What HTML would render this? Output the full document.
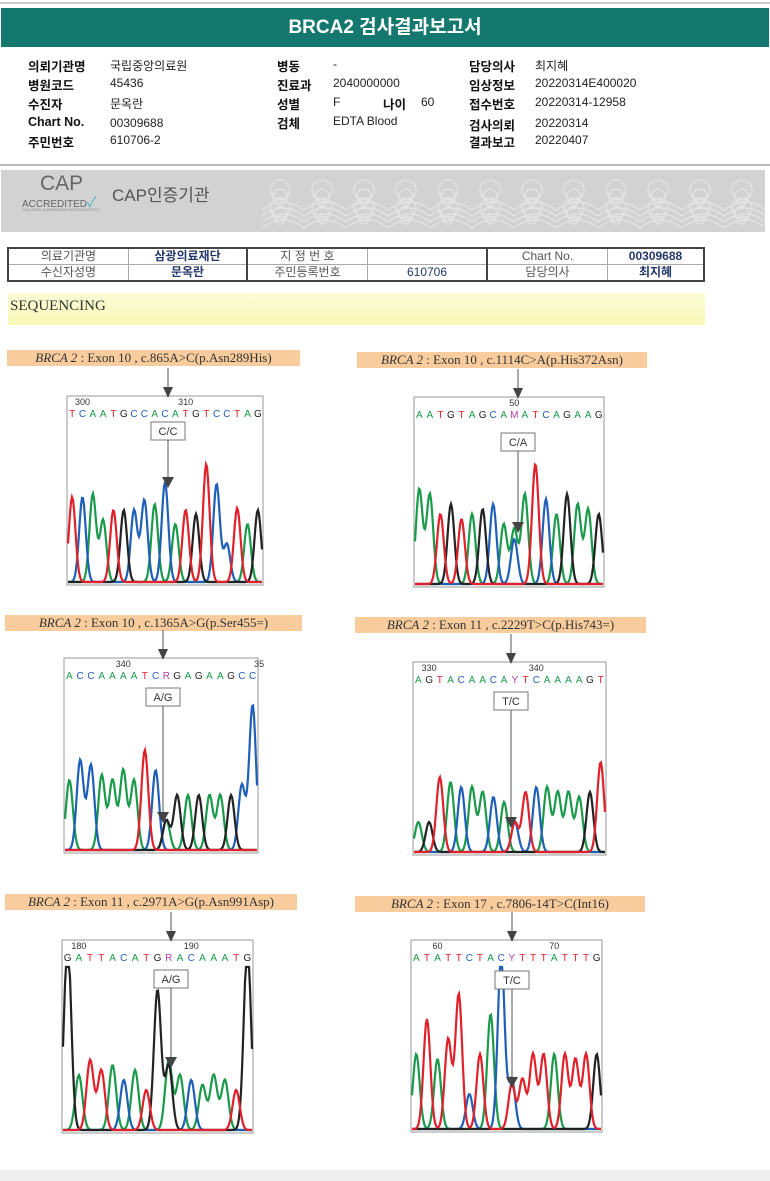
<!DOCTYPE html>
<html><head><meta charset="utf-8">
<style>
body{margin:0;width:770px;height:1181px;background:#fff;position:relative;overflow:hidden;font-family:"Liberation Sans","Noto Sans CJK KR",sans-serif;}
.a{position:absolute;white-space:nowrap}
.lb{font-weight:bold;font-size:12.5px;color:#111}
.v{font-size:12px;color:#222}
.tag{position:absolute;background:#f8cc9c;height:16px;font-family:"Liberation Serif",serif;font-size:13px;color:#333;line-height:16px;text-align:center}
table{border-collapse:collapse}
</style></head><body>
<div class="a" style="left:0;top:2px;width:770px;height:2px;background:#ccc"></div>
<div class="a" style="left:1px;top:8px;width:768px;height:39px;background:#14786f;color:#fff;font-weight:bold;font-size:19px;text-align:center;line-height:40px">BRCA2 검사결과보고서</div>

<div class="a lb" style="left:28px;top:56px">의뢰기관명</div><div class="a v" style="left:110px;top:57px">국립중앙의료원</div>
<div class="a lb" style="left:28px;top:75px">병원코드</div><div class="a v" style="left:110px;top:76px">45436</div>
<div class="a lb" style="left:28px;top:94px">수진자</div><div class="a v" style="left:110px;top:95px">문옥란</div>
<div class="a lb" style="left:28px;top:115px">Chart No.</div><div class="a v" style="left:110px;top:116px">00309688</div>
<div class="a lb" style="left:28px;top:132px">주민번호</div><div class="a v" style="left:110px;top:133px">610706-2</div>

<div class="a lb" style="left:277px;top:56px">병동</div><div class="a v" style="left:333px;top:57px">-</div>
<div class="a lb" style="left:277px;top:75px">진료과</div><div class="a v" style="left:333px;top:76px">2040000000</div>
<div class="a lb" style="left:277px;top:94px">성별</div><div class="a v" style="left:333px;top:95px">F</div>
<div class="a lb" style="left:383px;top:94px">나이</div><div class="a v" style="left:421px;top:95px">60</div>
<div class="a lb" style="left:277px;top:113px">검체</div><div class="a v" style="left:333px;top:114px">EDTA Blood</div>

<div class="a lb" style="left:469px;top:56px">담당의사</div><div class="a v" style="left:535px;top:57px">최지혜</div>
<div class="a lb" style="left:469px;top:75px">임상정보</div><div class="a v" style="left:535px;top:76px">20220314E400020</div>
<div class="a lb" style="left:469px;top:94px">접수번호</div><div class="a v" style="left:535px;top:95px">20220314-12958</div>
<div class="a lb" style="left:469px;top:115px">검사의뢰</div><div class="a v" style="left:535px;top:116px">20220314</div>
<div class="a lb" style="left:469px;top:132px">결과보고</div><div class="a v" style="left:535px;top:133px">20220407</div>

<div class="a" style="left:0;top:164px;width:770px;height:2px;background:#bbb"></div>
<div class="a" style="left:1px;top:170px;width:764px;height:62px;background:#d2d2d2"></div>
<svg class="a" style="left:262px;top:170px" width="503" height="62" id="w"></svg>
<div class="a" style="left:40px;top:172px;font-size:21px;color:#666">CAP</div>
<div class="a" style="left:22px;top:192px;font-size:10px;color:#666">ACCREDITED<span style="color:#4ab0c8;font-size:14px">✓</span></div>
<div class="a" style="left:22px;top:207px;font-size:4px;color:#888">COLLEGE of AMERICAN PATHOLOGISTS</div>
<div class="a" style="left:112px;top:181px;font-size:17px;color:#555">CAP인증기관</div>

<table class="a" style="left:7px;top:247px;width:698px;font-size:12px;color:#555;border:2px solid #444">
<tr style="height:15px"><td style="width:117px;text-align:center;border-right:1px solid #aaa;border-bottom:1px solid #aaa;line-height:13px">의료기관명</td><td style="width:115px;text-align:center;color:#23386a;font-weight:bold;border-right:2px solid #444;border-bottom:1px solid #aaa;line-height:13px">삼광의료재단</td><td style="width:117px;text-align:center;border-right:1px solid #aaa;border-bottom:1px solid #aaa;line-height:13px">지 정 번 호</td><td style="width:116px;border-right:2px solid #444;border-bottom:1px solid #aaa"></td><td style="width:117px;text-align:center;border-right:1px solid #aaa;border-bottom:1px solid #aaa;line-height:13px">Chart No.</td><td style="text-align:center;color:#23386a;font-weight:bold;border-bottom:1px solid #aaa;line-height:13px">00309688</td></tr>
<tr style="height:15px"><td style="text-align:center;border-right:1px solid #aaa;line-height:13px">수신자성명</td><td style="text-align:center;color:#23386a;font-weight:bold;border-right:2px solid #444;line-height:13px">문옥란</td><td style="text-align:center;border-right:1px solid #aaa;line-height:13px">주민등록번호</td><td style="text-align:center;color:#23386a;border-right:2px solid #444;line-height:13px">610706</td><td style="text-align:center;border-right:1px solid #aaa;line-height:13px">담당의사</td><td style="text-align:center;color:#23386a;font-weight:bold;line-height:13px">최지혜</td></tr>
</table>

<div class="a" style="left:8px;top:293px;width:697px;height:32px;background:linear-gradient(#fcfcd8,#f8f8b8)"></div>
<div class="a" style="left:10px;top:298px;font-family:'Liberation Serif',serif;font-size:15px;color:#333">SEQUENCING</div>

<div class="tag" style="left:7px;top:350px;width:293px"><i>BRCA 2</i> : Exon 10 , c.865A&gt;C(p.Asn289His)</div>
<div class="tag" style="left:357px;top:352px;width:290px"><i>BRCA 2</i> : Exon 10 , c.1114C&gt;A(p.His372Asn)</div>
<div class="tag" style="left:5px;top:615px;width:297px"><i>BRCA 2</i> : Exon 10 , c.1365A&gt;G(p.Ser455=)</div>
<div class="tag" style="left:355px;top:617px;width:291px"><i>BRCA 2</i> : Exon 11 , c.2229T&gt;C(p.His743=)</div>
<div class="tag" style="left:5px;top:894px;width:292px"><i>BRCA 2</i> : Exon 11 , c.2971A&gt;G(p.Asn991Asp)</div>
<div class="tag" style="left:355px;top:896px;width:290px"><i>BRCA 2</i> : Exon 17 , c.7806-14T&gt;C(Int16)</div>

<svg id="s" class="a" style="left:0;top:0" width="770" height="1181"></svg>
<div class="a" style="left:0;top:1170px;width:770px;height:11px;background:#eee"></div>

<script>
var w='';
for(var r=0;r<6;r++){for(var k=0;k<12;k++){var cx=18+k*42,cy=20+(r%2)*6+(r>>1)*12;
 w+='<circle cx="'+cx+'" cy="'+cy+'" r="'+(10-(r%3)*3)+'" fill="none" stroke="#e4e4e4" stroke-width="1.3"/>';}}
for(var j=0;j<4;j++){var d='M0 '+(40+j*6);for(var k=0;k<12;k++)d+=' q21 -16 42 0';w+='<path d="'+d+'" fill="none" stroke="#e4e4e4" stroke-width="1.3"/>';}
document.getElementById('w').innerHTML=w;

var col={A:'#1a9a4a',C:'#1f5fb8',G:'#222',T:'#e0202a',M:'#b040b0',R:'#b040b0',Y:'#b040b0'};
var P=[
{x:67,y:396,w:196,h:189,seq:'TCAATGCCACATGTCCTAG',n:['300',1,'310',11],ax:168,lab:'C/C',ly:422,ah:485,
 hs:[[['T',85]],[['C',85]],[['A',88]],[['A',62]],[['T',72]],[['G',72]],[['C',72]],[['C',82]],[['A',78]],[['C',100]],[['A',58]],[['T',72]],[['G',68]],[['T',118]],[['C',98]],[['C',38]],[['T',74]],[['A',58]],[['G',72]]]},
{x:414,y:397,w:190,h:190,seq:'AATGTAGCAMATCAGAAG',n:['50',9],ax:518,lab:'C/A',ly:433,ah:530,
 hs:[[['A',95]],[['A',90]],[['T',70]],[['G',80]],[['T',65]],[['A',70]],[['G',75]],[['C',80]],[['A',60]],[['C',45],['A',55]],[['A',90]],[['T',120]],[['C',85]],[['A',70]],[['G',90]],[['A',80]],[['A',75]],[['G',70]]]},
{x:64,y:658,w:194,h:195,seq:'ACCAAAATCRGAGAAGCC',n:['340',5,'35',17.6],ax:163,lab:'A/G',ly:688,ah:820,
 hs:[[['A',70]],[['C',90]],[['C',85]],[['A',75]],[['A',70]],[['A',80]],[['A',70]],[['T',100]],[['C',80]],[['A',30],['G',30]],[['G',55]],[['A',55]],[['G',55]],[['A',55]],[['A',55]],[['G',55]],[['C',65]],[['C',145]]]},
{x:413,y:662,w:193,h:193,seq:'AGTACAACAYTCAAAAGT',n:['330',1,'340',11],ax:511,lab:'T/C',ly:692,ah:825,
 hs:[[['A',30]],[['G',30]],[['T',75]],[['A',70]],[['C',65]],[['A',65]],[['A',60]],[['C',55]],[['A',50]],[['T',30],['C',30]],[['T',60]],[['C',65]],[['A',65]],[['A',60]],[['A',60]],[['A',55]],[['G',60]],[['T',90]]]},
{x:62,y:940,w:191,h:193,seq:'GATTACATGRACAAATG',n:['180',1,'190',11],ax:171,lab:'A/G',ly:970,ah:1065,
 hs:[[['G',190]],[['A',55]],[['T',70]],[['T',60]],[['A',65]],[['C',50]],[['A',60]],[['T',40]],[['G',140]],[['A',70],['G',65]],[['A',55]],[['C',50]],[['A',45]],[['A',55]],[['A',50]],[['T',40]],[['G',185]]]},
{x:411,y:940,w:191,h:192,seq:'ATATTCTACYTTTATTTG',n:['60',2,'70',13],ax:512,lab:'T/C',ly:971,ah:1085,
 hs:[[['A',75]],[['T',110]],[['A',70]],[['T',90]],[['T',135]],[['C',35]],[['T',75]],[['A',115]],[['C',175]],[['T',45],['C',50]],[['T',50]],[['T',75]],[['T',75]],[['A',75]],[['T',75]],[['T',70]],[['T',75]],[['G',75]]]}
];
var s='';
P.forEach(function(p){
 var n=p.seq.length,sp=p.w/n,base=p.y+p.h-3;
 s+='<rect x="'+p.x+'" y="'+p.y+'" width="'+p.w+'" height="'+p.h+'" fill="#fff" stroke="#999" stroke-width="1"/>';
 for(var i=0;i<n;i++){var c=p.seq[i];
  s+='<text x="'+(p.x+(i+0.5)*sp)+'" y="'+(p.y+21)+'" font-size="10" font-family="Liberation Sans,sans-serif" text-anchor="middle" fill="'+col[c]+'">'+c+'</text>';}
 for(var k=0;k<p.n.length;k+=2)s+='<text x="'+(p.x+(p.n[k+1]+0.5)*sp)+'" y="'+(p.y+9)+'" font-size="9" text-anchor="middle" fill="#333" font-family="Liberation Sans,sans-serif">'+p.n[k]+'</text>';
 ['A','C','G','T'].forEach(function(ch){
  var pts=[];var sig=sp*0.32;
  for(var xx=p.x+1;xx<=p.x+p.w-1;xx+=1){var yv=0;
   p.hs.forEach(function(pk,i){pk.forEach(function(q){if(q[0]==ch){var d=xx-(p.x+(i+0.5)*sp);yv+=q[1]*Math.exp(-d*d/(2*sig*sig));}});});
   pts.push(xx.toFixed(1)+','+(base-Math.min(yv,p.h-30)).toFixed(1));}
  s+='<polyline points="'+pts.join(' ')+'" fill="none" stroke="'+col[ch]+'" stroke-width="2.2"/>';
 });
 var ax=p.ax;
 s+='<line x1="'+ax+'" y1="'+(p.y-28)+'" x2="'+ax+'" y2="'+(p.y-4)+'" stroke="#555"/><path d="M'+(ax-5)+' '+(p.y-9)+'L'+(ax+5)+' '+(p.y-9)+'L'+ax+' '+(p.y+2)+'Z" fill="#444"/>';
 s+='<rect x="'+(ax-17)+'" y="'+p.ly+'" width="34" height="18" fill="#fff" stroke="#777"/><text x="'+ax+'" y="'+(p.ly+13)+'" font-size="11" text-anchor="middle" fill="#333" font-family="Liberation Sans,sans-serif">'+p.lab+'</text>';
 s+='<line x1="'+ax+'" y1="'+(p.ly+18)+'" x2="'+ax+'" y2="'+(p.ah-6)+'" stroke="#555"/><path d="M'+(ax-6)+' '+(p.ah-8)+'L'+(ax+6)+' '+(p.ah-8)+'L'+ax+' '+(p.ah+3)+'Z" fill="#444"/>';
});
document.getElementById('s').innerHTML=s;
</script>
</body></html>
